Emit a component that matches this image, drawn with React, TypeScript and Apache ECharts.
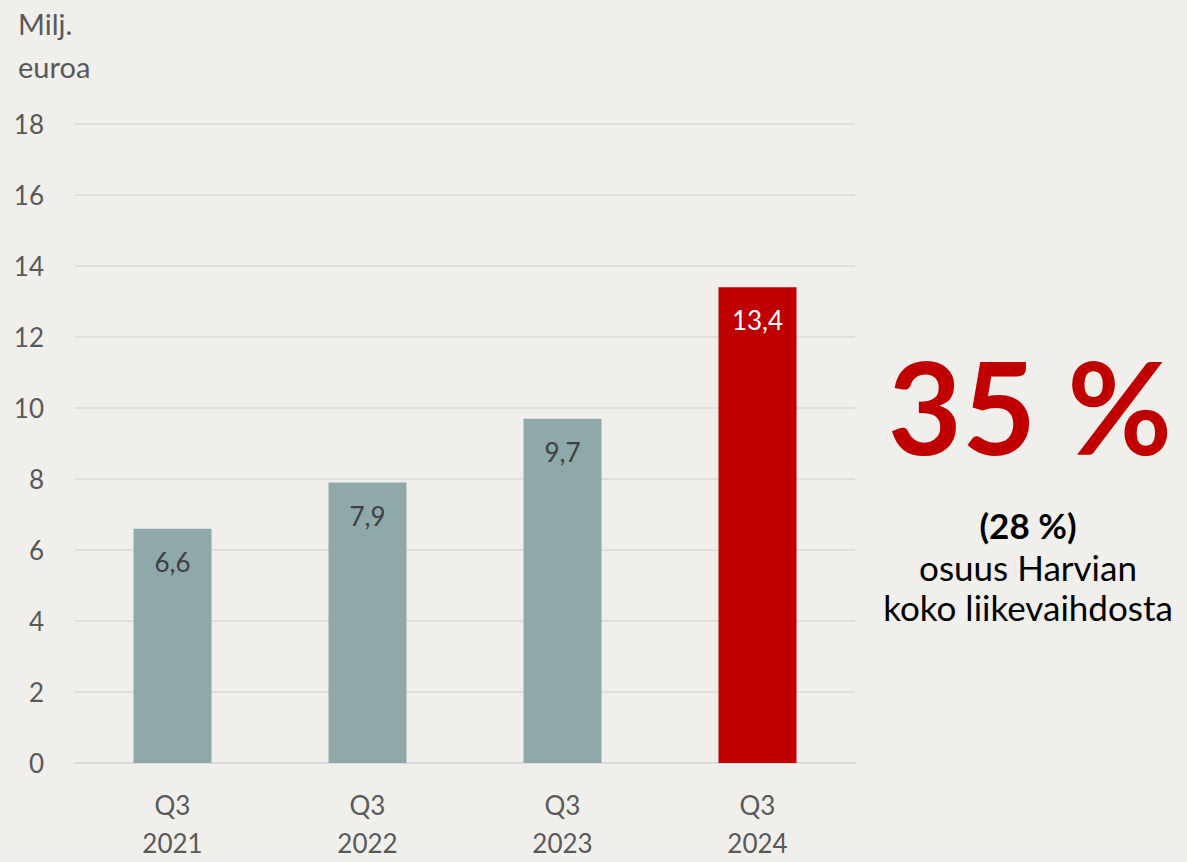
import React, { useEffect, useRef } from "react";
import * as echarts from "echarts";

const categories = ["Q3\n2021", "Q3\n2022", "Q3\n2023", "Q3\n2024"];
const values = [6.6, 7.9, 9.7, 13.4];
const highlightIndex = 3;
const unitLabel = ["Milj.", "euroa"];
const bigShare = "35 %";
const prevShare = "(28 %)";
const shareText = ["osuus Harvian", "koko liikevaihdosta"];

const FONT = "Lato, 'Open Sans', sans-serif";
const BG = "#F0EFEB";
const GREY_BAR = "#8FA9AA";
const RED = "#C00000";
const AXIS_TEXT = "#595959";

export default function App() {
  const ref = useRef<HTMLDivElement>(null);
  useEffect(() => {
    if (!ref.current) return;
    const chart = echarts.init(ref.current, undefined, { renderer: "svg" });
    chart.setOption({
      animation: false,
      backgroundColor: BG,
      textStyle: { fontFamily: FONT },
      grid: { left: 75, right: 332, top: 124, bottom: 92, containLabel: false },
      xAxis: {
        type: "category",
        data: categories,
        axisLine: { show: true, lineStyle: { color: "#D9D9D9", width: 1.5 } },
        axisTick: { show: false },
        axisLabel: {
          color: AXIS_TEXT,
          fontSize: 26,
          fontFamily: FONT,
          lineHeight: 38,
          margin: 23,
        },
      },
      yAxis: {
        type: "value",
        min: 0,
        max: 18,
        interval: 2,
        axisLine: { show: false },
        axisTick: { show: false },
        splitLine: { lineStyle: { color: "#D9D9D9", width: 1.5 } },
        axisLabel: {
          color: AXIS_TEXT,
          fontSize: 26,
          fontFamily: FONT,
          margin: 31,
        },
      },
      series: [
        {
          type: "bar",
          barWidth: "40%",
          data: values.map((v, i) => ({
            value: v,
            itemStyle: { color: i === highlightIndex ? RED : GREY_BAR },
            label: { color: i === highlightIndex ? "#FFFFFF" : "#404040" },
          })),
          label: {
            show: true,
            position: "insideTop",
            distance: 20,
            fontSize: 26,
            fontFamily: FONT,
            formatter: (p: any) => String(p.value).replace(".", ","),
          },
        },
      ],
      graphic: [
        {
          type: "text",
          left: 18,
          top: 2,
          style: {
            text: unitLabel.join("\n"),
            fill: AXIS_TEXT,
            font: `29px ${FONT}`,
            lineHeight: 43,
          },
        },
        {
          type: "text",
          x: 1030,
          y: 405,
          style: {
            text: bigShare,
            fill: RED,
            font: `bold 128px ${FONT}`,
            align: "center",
            verticalAlign: "middle",
          },
        },
        {
          type: "text",
          x: 1028,
          y: 525,
          style: {
            text: prevShare,
            fill: "#000000",
            font: `bold 35px ${FONT}`,
            align: "center",
            verticalAlign: "middle",
          },
        },
        {
          type: "text",
          x: 1028,
          y: 587,
          style: {
            text: shareText.join("\n"),
            fill: "#000000",
            font: `35px ${FONT}`,
            lineHeight: 40,
            align: "center",
            verticalAlign: "middle",
          },
        },
      ],
    });
    return () => chart.dispose();
  }, []);
  return (
    <div
      ref={ref}
      style={{ position: "fixed", left: 0, top: 0, width: 1187, height: 862 }}
    />
  );
}
